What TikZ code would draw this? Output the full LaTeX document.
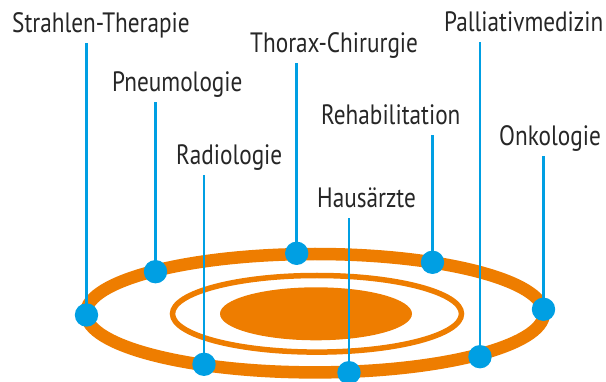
\documentclass[tikz,border=0pt]{standalone}
\usepackage{fontspec}
\setmainfont{PT Sans}[FakeStretch=0.83]
\usetikzlibrary{positioning}
\definecolor{ringorange}{HTML}{EE7D00}
\definecolor{pinblue}{HTML}{009FE3}
\definecolor{labelgray}{HTML}{262626}

\begin{document}
\begin{tikzpicture}[
    x=1pt, y=-1pt,
    font=\fontsize{28}{30}\selectfont,
    lbl/.style={anchor=base west, inner xsep=0pt, inner ysep=3pt,
                text depth=7pt, text=labelgray},
    ball/.style={circle, fill=pinblue, inner sep=0pt, minimum size=23.4pt},
    pin/.style={draw=pinblue, line width=2.6pt},
    ring/.style={draw=ringorange, line width=12.5pt},
    innerring/.style={draw=ringorange, line width=5.5pt},
]
\useasboundingbox (0,0) rectangle (606,382);
\clip (0,0) rectangle (606,382);

% ---- rings ----
\draw[ring] (315,313.2) ellipse [x radius=229pt, y radius=59.2pt];
\draw[innerring] (317,313.8) ellipse [x radius=144.5pt, y radius=38.3pt];
\fill[ringorange] (316,313.8) ellipse [x radius=96pt, y radius=26.5pt];

% ---- labels ----
\node[lbl] (strahlen) at (12,33)  {Strahlen-Therapie};
\node[lbl] (pneumo)   at (112,92) {Pneumologie};
\node[lbl] (radio)    at (176,165) {Radiologie};
\node[lbl] (thorax)   at (250,53) {Thorax-Chirurgie};
\node[lbl] (haus)     at (317,208) {Hausärzte};
\node[lbl] (rehab)    at (321,125) {Rehabilitation};
\node[lbl] (pallia)   at (444,32) {Palliativmedizin};
\node[lbl] (onko)     at (499,146) {Onkologie};

% ---- points on the ring ----
\coordinate (strahlenpt) at (86.5,315);
\coordinate (pneumopt)   at (155.5,271.7);
\coordinate (radiopt)    at (204,364.3);
\coordinate (thoraxpt)   at (296.7,253.3);
\coordinate (hauspt)     at (349,372.7);
\coordinate (rehabpt)    at (432.5,262.3);
\coordinate (palliapt)   at (480,356.7);
\coordinate (onkopt)     at (543.5,309.3);

% ---- pins ----
\draw[pin] (strahlenpt) -- (strahlenpt |- strahlen.south);
\draw[pin] (pneumopt)   -- (pneumopt |- pneumo.south);
\draw[pin] (radiopt)    -- (radiopt |- radio.south);
\draw[pin] (thoraxpt)   -- (thoraxpt |- thorax.south);
\draw[pin] (hauspt)     -- (hauspt |- haus.south);
\draw[pin] (rehabpt)    -- (rehabpt |- rehab.south);
\draw[pin] (palliapt)   -- (palliapt |- pallia.south);
\draw[pin] (onkopt)     -- (onkopt |- onko.south);

% ---- balls ----
\node[ball] (strahlenball) at (strahlenpt) {};
\node[ball] (pneumoball)   at (pneumopt) {};
\node[ball] (radioball)    at (radiopt) {};
\node[ball] (thoraxball)   at (thoraxpt) {};
\node[ball] (hausball)     at (hauspt) {};
\node[ball] (rehabball)    at (rehabpt) {};
\node[ball] (palliaball)   at (palliapt) {};
\node[ball] (onkoball)     at (onkopt) {};

\end{tikzpicture}
\end{document}
